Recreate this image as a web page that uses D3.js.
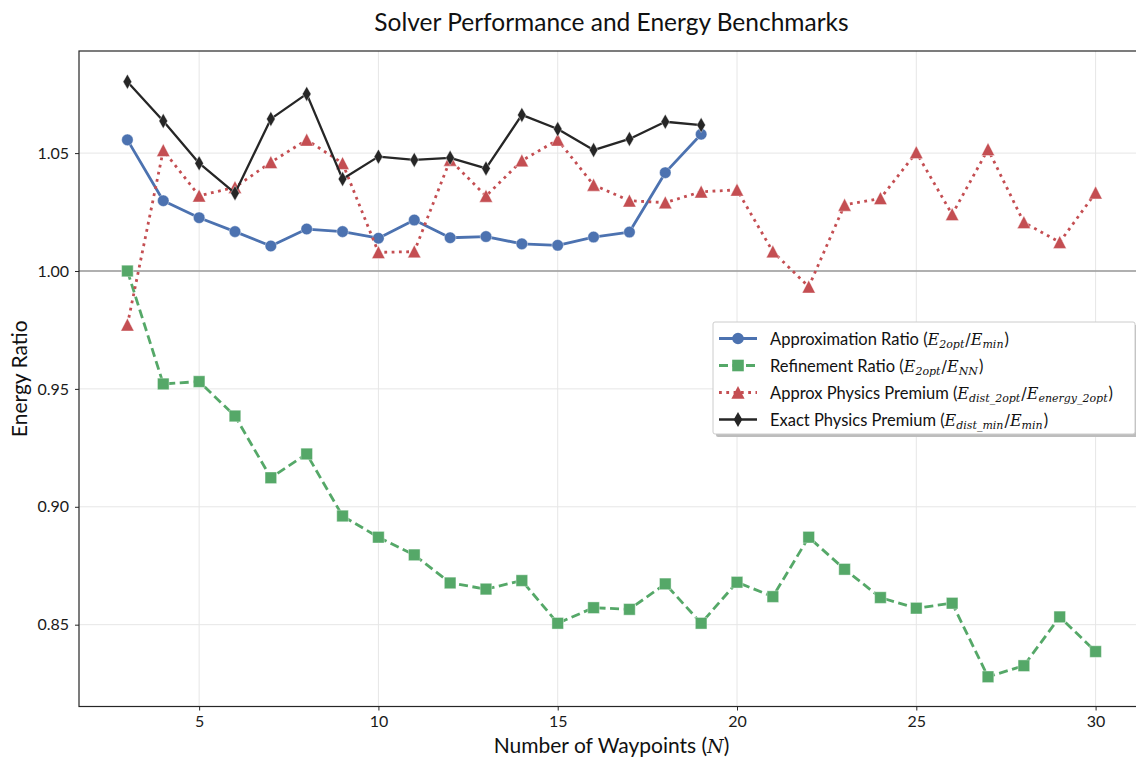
<!DOCTYPE html>
<html>
<head>
<meta charset="utf-8">
<script src="https://cdn.jsdelivr.net/npm/d3@7"></script>
<style>
  body { margin: 0; background: #fff; }
  svg { display: block; font-family: "Lato", "DejaVu Sans", sans-serif; }
</style>
</head>
<body>
<svg width="1136" height="760"></svg>
<script>
// données
const nApprox = d3.range(3, 20);
const approxRatio = [1.0556, 1.0298, 1.0226, 1.0167, 1.0106, 1.0178, 1.0167, 1.0139, 1.0216, 1.0141,
  1.0146, 1.0115, 1.0109, 1.0144, 1.0165, 1.0417, 1.0580];
const exactPremium = [1.0803, 1.0636, 1.0457, 1.0330, 1.0645, 1.0751, 1.0390, 1.0485, 1.0471, 1.0480,
  1.0435, 1.0662, 1.0602, 1.0513, 1.0560, 1.0633, 1.0619];
const nAll = d3.range(3, 31);
const refineRatio = [1.0000, 0.9521, 0.9531, 0.9385, 0.9123, 0.9224, 0.8961, 0.8871, 0.8796, 0.8677,
  0.8651, 0.8687, 0.8506, 0.8572, 0.8565, 0.8673, 0.8506, 0.8680, 0.8619, 0.8871,
  0.8735, 0.8615, 0.8570, 0.8591, 0.8279, 0.8326, 0.8533, 0.8386];
const approxPremium = [0.9772, 1.0512, 1.0319, 1.0355, 1.0461, 1.0556, 1.0457, 1.0079, 1.0082, 1.0471,
  1.0318, 1.0468, 1.0556, 1.0365, 1.0298, 1.0290, 1.0336, 1.0344, 1.0082, 0.9933,
  1.0280, 1.0308, 1.0503, 1.0240, 1.0516, 1.0206, 1.0122, 1.0332];
const xTicks = [5, 10, 15, 20, 25, 30];
const yTicks = [0.85, 0.90, 0.95, 1.00, 1.05];

const svg = d3.select("svg");
const mLeft = 79, mRight = 1144, mTop = 51, mBottom = 706.5;

const x = d3.scaleLinear().domain([1.65, 31.35]).range([mLeft, mRight]);
const y = d3.scaleLinear().domain([0.8153, 1.0933]).range([mBottom, mTop]);

// grille
svg.append("g").selectAll("line").data(xTicks).join("line")
  .attr("x1", d => x(d)).attr("x2", d => x(d)).attr("y1", mTop).attr("y2", mBottom)
  .attr("stroke", "#e6e6e6").attr("stroke-width", 1);
svg.append("g").selectAll("line").data(yTicks).join("line")
  .attr("x1", mLeft).attr("x2", mRight).attr("y1", d => y(d)).attr("y2", d => y(d))
  .attr("stroke", "#e6e6e6").attr("stroke-width", 1);

// ligne de référence à 1.0
svg.append("line")
  .attr("x1", mLeft).attr("x2", mRight).attr("y1", y(1)).attr("y2", y(1))
  .attr("stroke", "#9a9a9a").attr("stroke-width", 1.6);

const series = [
  { xs: nApprox, ys: approxRatio, color: "#4C72B0", dash: null, width: 2.8, marker: "circle" },
  { xs: nAll, ys: refineRatio, color: "#55A868", dash: "9,4.5", width: 2.8, marker: "square" },
  { xs: nAll, ys: approxPremium, color: "#C44E52", dash: "2.8,4.5", width: 2.8, marker: "triangle" },
  { xs: nApprox, ys: exactPremium, color: "#262626", dash: null, width: 2.3, marker: "diamond" }
];

function markerPath(kind) {
  if (kind === "circle") return d3.symbol(d3.symbolCircle, 105)();
  if (kind === "square") return "M-5.8,-5.8H5.8V5.8H-5.8Z";
  if (kind === "triangle") return "M0,-6.6L6.6,6.2H-6.6Z";
  return "M0,-7.5L4.3,0L0,7.5L-4.3,0Z";
}

const line = d3.line();
series.forEach(s => {
  const pts = s.xs.map((n, i) => [x(n), y(s.ys[i])]);
  svg.append("path")
    .attr("d", line(pts))
    .attr("fill", "none")
    .attr("stroke", s.color)
    .attr("stroke-width", s.width)
    .attr("stroke-dasharray", s.dash)
    .attr("stroke-linejoin", "round");
  svg.append("g").selectAll("path").data(pts).join("path")
    .attr("transform", d => `translate(${d[0]},${d[1]})`)
    .attr("d", markerPath(s.marker))
    .attr("fill", s.color)
    .attr("stroke", "#ffffff").attr("stroke-opacity", 0.5).attr("stroke-width", 0.8);
});

// cadre
svg.append("rect")
  .attr("x", mLeft).attr("y", mTop).attr("width", mRight - mLeft).attr("height", mBottom - mTop)
  .attr("fill", "none").attr("stroke", "#262626").attr("stroke-width", 1.2);

// axes
const xAxis = svg.append("g").attr("transform", `translate(0,${mBottom})`)
  .call(d3.axisBottom(x).tickValues(xTicks).tickSize(4).tickPadding(5).tickFormat(d3.format("d")));
const yAxis = svg.append("g").attr("transform", `translate(${mLeft},0)`)
  .call(d3.axisLeft(y).tickValues(yTicks).tickSize(4).tickPadding(6).tickFormat(d3.format(".2f")));
[xAxis, yAxis].forEach(a => {
  a.select(".domain").remove();
  a.selectAll("line").attr("stroke", "#262626");
  a.selectAll("text").attr("font-size", 16).attr("fill", "#1a1a1a").attr("font-family", "Lato, sans-serif");
});

// titres
svg.append("text").attr("x", (mLeft + mRight) / 2).attr("y", 31)
  .attr("text-anchor", "middle").attr("font-size", 24.5).attr("fill", "#111")
  .text("Solver Performance and Energy Benchmarks");

const xl = svg.append("text").attr("x", (mLeft + mRight) / 2).attr("y", 753)
  .attr("text-anchor", "middle").attr("font-size", 21).attr("fill", "#111");
xl.append("tspan").text("Number of Waypoints (");
xl.append("tspan").attr("font-family", "DejaVu Serif").attr("font-style", "italic").attr("font-size", 19).text("N");
xl.append("tspan").text(")");

svg.append("text").attr("transform", `translate(27,${(mTop + mBottom) / 2}) rotate(-90)`)
  .attr("text-anchor", "middle").attr("font-size", 21).attr("fill", "#111")
  .text("Energy Ratio");

// légende
const legendItems = [
  { s: series[0], label: "Approximation Ratio (", num: ["E", "2opt"], den: ["E", "min"] },
  { s: series[1], label: "Refinement Ratio (", num: ["E", "2opt"], den: ["E", "NN"] },
  { s: series[2], label: "Approx Physics Premium (", num: ["E", "dist_2opt"], den: ["E", "energy_2opt"] },
  { s: series[3], label: "Exact Physics Premium (", num: ["E", "dist_min"], den: ["E", "min"] }
];
const lg = svg.append("g").attr("transform", "translate(713,322)");
lg.append("rect").attr("x", 3).attr("y", 3).attr("width", 422).attr("height", 112)
  .attr("rx", 2).attr("fill", "#bdbdbd");
lg.append("rect").attr("x", 0).attr("y", 0).attr("width", 422).attr("height", 112)
  .attr("rx", 2).attr("fill", "#fff").attr("stroke", "#cccccc").attr("stroke-width", 1);

legendItems.forEach((it, i) => {
  const cy = 16.5 + i * 27;
  const g = lg.append("g").attr("transform", `translate(0,${cy})`);
  g.append("line").attr("x1", 6).attr("x2", 44).attr("y1", 0).attr("y2", 0)
    .attr("stroke", it.s.color).attr("stroke-width", it.s.width)
    .attr("stroke-dasharray", it.s.dash);
  g.append("path").attr("transform", "translate(25,0)").attr("d", markerPath(it.s.marker))
    .attr("fill", it.s.color);
  const t = g.append("text").attr("x", 57).attr("y", 6).attr("font-size", 16.5).attr("fill", "#111");
  t.append("tspan").text(it.label);
  const mathPart = (p) => {
    t.append("tspan").attr("font-family", "DejaVu Serif").attr("font-style", "italic").attr("font-size", 16).text(p[0]);
    t.append("tspan").attr("font-family", "DejaVu Serif").attr("font-style", "italic").attr("font-size", 11)
      .attr("dy", 3).text(p[1]);
    t.append("tspan").attr("dy", -3).text("\u200a");
  };
  mathPart(it.num);
  t.append("tspan").attr("font-family", "DejaVu Serif").attr("font-size", 16).text("/");
  mathPart(it.den);
  t.append("tspan").text(")");
});
</script>
</body>
</html>
